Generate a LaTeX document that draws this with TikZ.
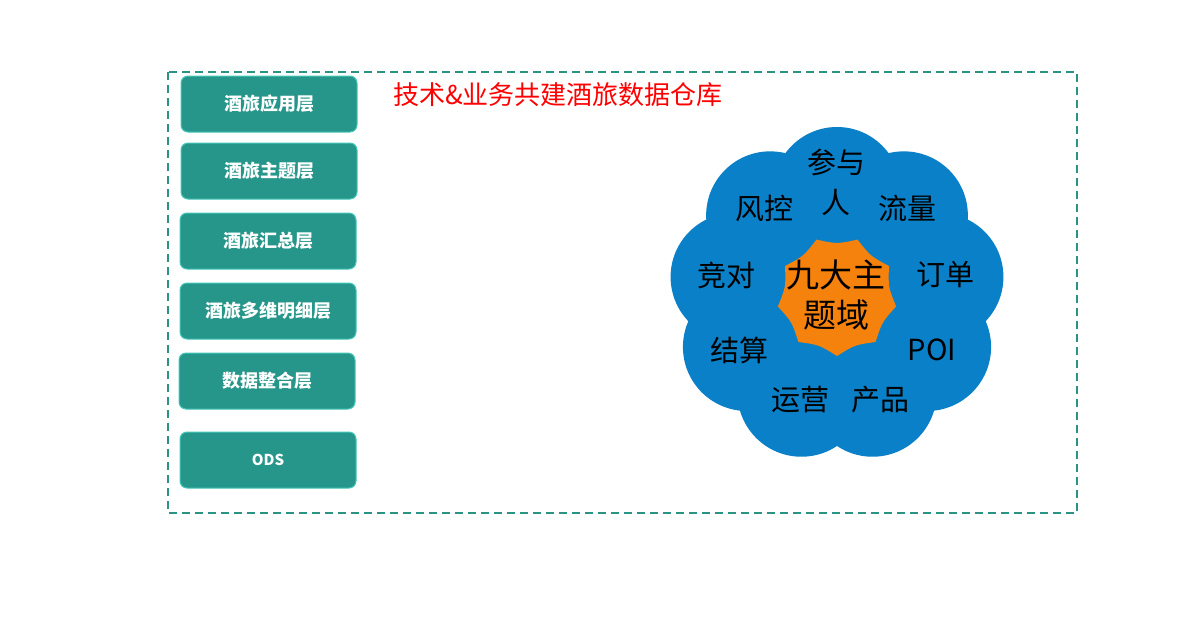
\documentclass[tikz,border=0pt]{standalone}
\usepackage{fontspec}
\newfontfamily\cjk{Noto Sans CJK SC}
\usetikzlibrary{calc}
\definecolor{boxteal}{HTML}{26968A}
\definecolor{boxedge}{HTML}{45C8BA}
\definecolor{frameteal}{HTML}{2A9384}
\definecolor{flowerblue}{HTML}{0A80C8}
\definecolor{starorange}{HTML}{F5820C}
\tikzset{
  layerbox/.style={draw=boxedge, line width=1pt, fill=boxteal, rounded corners=7pt,
    minimum width=176pt, minimum height=56pt, text=white, inner sep=0pt,
    font=\cjk\bfseries\fontsize{18}{18}\selectfont},
  petal/.style={font=\cjk\fontsize{29}{40}\selectfont, text=black, align=center, inner sep=0pt},
  coretext/.style={font=\cjk\fontsize{33}{40}\selectfont, text=black, align=center, inner sep=0pt},
}
\begin{document}
\begin{tikzpicture}[x=1pt,y=-1pt]
\useasboundingbox (0,0) rectangle (1188,630);
\fill[white] (0,0) rectangle (1188,630);
% outer dashed frame
\draw[frameteal, line width=2pt, dash pattern=on 8pt off 5pt] (168,72) rectangle (1077,513);
% title
\node[font=\cjk\fontsize{26}{26}\selectfont, text=red, inner sep=0pt] (title) at (558,95) {技术\&业务共建酒旅数据仓库};
% layer boxes
\node[layerbox] (l1) at (269,104) {酒旅应用层};
\node[layerbox] (l2) at (269,171) {酒旅主题层};
\node[layerbox] (l3) at (268,241) {酒旅汇总层};
\node[layerbox] (l4) at (268,311) {酒旅多维明细层};
\node[layerbox] (l5) at (267,381) {数据整合层};
\node[layerbox, font=\cjk\bfseries\fontsize{15}{15}\selectfont] (l6) at (268,460) {ODS};
% flower
\coordinate (fc) at (837,295);
\fill[flowerblue] (fc) circle (108pt);
\foreach \a in {270,310,350,30,70,110,150,190,230}
  \fill[flowerblue] ($(fc)+(\a:104)$) circle (64pt);
% star (nine points)
\coordinate (sc) at (837,296);
\fill[starorange]
  ($(sc)+(90:60)$)
  \foreach \k in {1,...,9} {
    .. controls ($(sc)+(90+40*\k-20:52)$) .. ($(sc)+(90+40*\k:60)$)
  } -- cycle;
% labels
\node[petal] (p1) at (836,182) {参与\\人};
\node[petal] (p2) at (764,208) {风控};
\node[petal] (p3) at (907,208) {流量};
\node[petal] (p4) at (726,275) {竞对};
\node[petal] (p5) at (945,275) {订单};
\node[petal] (p6) at (739,350) {结算};
\node[petal] (p7) at (932,350) {POI};
\node[petal] (p8) at (800,400) {运营};
\node[petal] (p9) at (880,400) {产品};
\node[coretext] (core) at (836,295) {九大主\\题域};
\end{tikzpicture}
\end{document}
